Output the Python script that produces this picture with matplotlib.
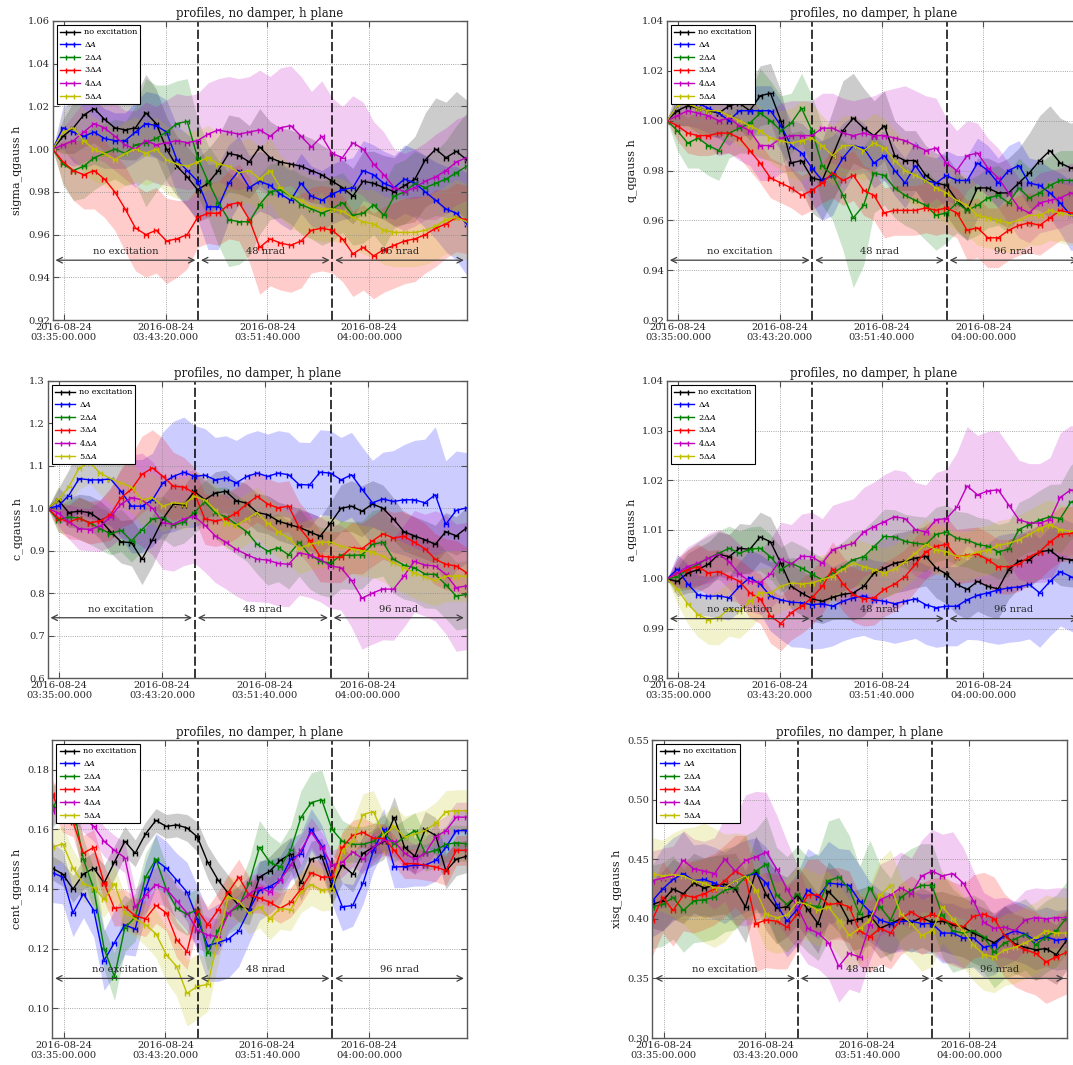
import numpy as np
import matplotlib
matplotlib.use("Agg")
import matplotlib.pyplot as plt
from matplotlib.ticker import MultipleLocator, FormatStrFormatter, FuncFormatter

plt.rcParams['font.family'] = 'DejaVu Serif'
plt.rcParams['mathtext.fontset'] = 'dejavuserif'

# time axis: seconds after 2016-08-24 03:35:00
t_first, t_last, n_pts = -55, 1980, 41
t_exc1, t_exc2 = 660, 1320   # start of the 48 nrad and 96 nrad steps
t = np.linspace(t_first, t_last, n_pts)
XERR = 10  # half width of the time bins (s)

labels = ['no excitation', r'$\Delta A$', r'$2\Delta A$', r'$3\Delta A$', r'$4\Delta A$', r'$5\Delta A$']
colors = ['k', 'b', 'g', 'r', 'm', 'y']

# sigma_qgauss (x1e-3)
sig_no = [1000,1006,1010,1016,1019,1014,1010,1009,1010,1017,1012,1000,992,987,981,984,990,998,997,994,1001,996,994,993,992,990,988,985,982,978,985,984,982,980,983,986,995,1000,996,999,995]
sig_1 = [1000,1010,1008,1006,1008,1005,1004,1004,1008,1012,1011,1008,995,990,985,973,973,984,990,982,985,983,979,976,984,978,976,979,981,982,990,988,984,982,986,984,980,976,972,970,965]
sig_2 = [1000,993,990,992,996,998,1000,998,1002,1003,1005,1008,1012,1013,996,985,975,967,966,966,974,980,981,978,974,972,970,972,975,969,970,974,969,978,980,984,982,984,986,989,992]
sig_3 = [1000,994,990,988,990,986,980,972,963,960,962,957,958,960,968,970,970,974,975,967,954,958,956,955,957,962,963,962,958,951,954,950,953,955,957,958,960,963,965,968,967]
sig_4 = [1000,1002,1004,1008,1012,1010,1006,1002,1000,1004,1002,1003,1004,1003,1004,1007,1009,1008,1007,1008,1009,1006,1010,1011,1006,1001,1006,998,996,1003,1000,993,988,982,980,982,985,987,990,994,996]
sig_5 = [1000,1008,1010,1004,1000,998,995,998,1000,998,1000,995,993,992,994,996,993,992,989,990,986,990,982,978,976,973,972,972,971,968,966,965,962,961,961,961,962,964,967,968,966]
sig_no_sd = [0,8,12,15,16,15,14,14,15,18,16,15,14,14,15,16,16,18,18,17,18,17,16,16,15,15,14,14,13,13,14,15,15,16,18,20,22,24,26,28,28]
sig_1_sd = [0,10,14,15,15,14,13,13,14,15,15,15,16,17,18,20,20,18,16,15,14,14,14,14,14,14,14,14,14,14,14,14,15,15,16,16,17,18,20,22,24]
sig_2_sd = [0,10,14,15,15,14,14,15,18,30,25,22,20,20,18,17,20,22,20,16,14,13,13,13,14,14,15,15,14,14,14,14,15,15,15,15,15,15,18,22,25]
sig_3_sd = [0,10,14,16,18,18,18,20,20,20,20,20,18,16,14,14,15,16,18,20,22,22,22,22,22,20,20,20,20,20,20,20,20,20,20,20,18,18,16,16,16]
sig_4_sd = [0,8,12,14,16,16,16,16,18,18,18,20,22,22,22,24,24,26,26,26,28,28,28,28,28,26,26,26,24,22,22,20,20,18,18,18,18,20,20,20,20]
sig_5_sd = [0,10,14,15,15,15,15,15,15,15,15,16,16,16,15,15,15,15,15,15,15,15,15,15,15,15,15,15,15,15,15,16,16,16,16,16,16,16,16,18,18]

# q_qgauss (x1e-3)
q_no = [1000,1004,1006,1005,1004,1003,1006,1007,1004,1010,1011,1000,983,984,977,976,986,996,1001,997,994,998,986,984,984,978,975,974,968,964,973,973,971,971,975,979,984,988,983,981,982]
q_1 = [1000,1006,1008,1007,1005,1003,1000,1004,1004,1004,1004,998,990,987,981,976,978,985,990,989,983,986,980,975,982,976,975,978,976,976,983,980,975,980,982,975,974,971,967,962,962]
q_2 = [1000,996,991,993,990,988,995,997,999,1003,1000,996,999,1005,996,982,978,970,961,966,979,978,973,970,968,966,962,963,967,964,966,969,970,967,973,969,971,974,976,976,976]
q_3 = [1000,998,995,994,994,995,995,993,988,983,977,975,973,970,972,975,979,976,978,972,970,963,964,964,964,965,964,965,963,956,957,953,953,956,958,959,958,961,964,963,963]
q_4 = [1000,1002,1004,1003,1002,1000,1001,998,996,990,990,993,994,994,994,997,997,995,994,995,994,994,993,992,990,988,989,983,980,986,987,981,977,971,965,963,967,968,969,971,970]
q_5 = [1000,1006,1007,1005,1004,1004,1002,1000,998,996,993,992,991,992,993,990,986,990,990,988,991,989,984,980,978,976,973,971,968,966,962,961,960,959,960,962,962,964,963,962,962]
q_no_sd = [0,6,8,10,10,10,10,10,12,12,12,12,12,12,14,16,18,20,18,16,14,14,14,12,12,12,12,12,12,12,12,12,12,14,14,16,18,18,18,18,18]
q_1_sd = [0,8,10,10,10,10,10,10,10,10,10,10,10,12,14,16,16,14,12,10,10,10,10,10,10,10,10,10,10,10,10,10,10,10,10,10,10,10,12,14,14]
q_2_sd = [0,8,10,12,12,12,10,10,12,18,16,14,12,14,14,16,18,22,28,24,16,12,12,12,12,14,14,12,12,12,12,12,12,12,12,12,12,12,12,12,12]
q_3_sd = [0,6,8,8,8,8,8,8,8,8,8,8,8,8,8,8,10,10,10,10,10,10,10,10,10,10,10,10,10,12,12,12,12,12,12,12,12,12,12,12,12]
q_4_sd = [0,6,8,10,12,14,14,14,14,14,14,14,14,14,14,14,14,14,14,14,16,18,20,22,22,22,20,18,16,14,12,12,12,12,12,12,12,12,12,12,12]
q_5_sd = [0,8,10,10,10,10,10,10,10,10,10,12,14,16,14,12,12,12,12,12,12,12,12,12,12,12,12,12,12,12,12,12,12,12,12,12,12,12,12,12,12]

# c_qgauss (x1e-3)
c_no = [1000,1020,990,993,990,973,945,921,919,880,925,975,1010,1008,1040,1020,1036,1040,1018,1012,990,985,970,962,955,945,934,965,1000,1005,993,1010,1000,975,945,935,926,915,945,935,954]
c_1 = [1000,1005,1030,1070,1067,1067,1069,1040,1005,1005,1020,1060,1075,1085,1075,1078,1067,1071,1060,1075,1083,1075,1083,1079,1056,1055,1085,1083,1067,1079,1045,1013,1022,1016,1020,1020,1013,1032,962,995,1001]
c_2 = [1000,973,979,977,966,952,940,948,923,950,975,978,960,968,990,1015,989,980,962,945,915,899,907,890,920,890,876,870,890,889,890,915,920,880,866,860,845,844,820,793,797]
c_3 = [1000,977,968,976,966,970,985,1025,1045,1080,1095,1075,1052,1050,1036,975,970,975,989,1010,1028,1010,1001,1005,955,925,887,885,885,907,905,923,940,930,934,920,905,880,868,864,848]
c_4 = [1000,989,968,952,950,958,980,1010,1025,1020,1000,966,962,975,981,960,935,920,903,891,880,878,870,868,895,890,880,864,860,830,788,800,810,809,840,875,866,864,844,813,817]
c_5 = [1000,1020,1050,1095,1108,1083,1070,1060,1050,1020,1025,1005,1013,1010,1028,1020,997,966,960,975,990,965,945,930,905,915,920,920,911,905,900,897,887,872,860,848,838,830,840,840,840]
c_no_sd = [0,30,35,40,40,45,50,50,55,60,60,55,50,45,45,45,50,50,50,45,45,45,45,45,45,45,45,50,55,60,60,55,55,50,45,45,45,45,45,45,50]
c_1_sd = [0,40,60,80,90,100,110,110,110,110,110,120,130,130,120,110,100,100,100,100,100,100,100,100,100,100,100,100,100,100,100,100,110,120,130,140,150,160,150,140,130]
c_2_sd = [0,30,40,50,50,50,50,50,50,50,50,50,50,50,50,50,60,70,70,70,70,80,80,80,80,80,80,80,80,80,80,80,80,80,80,80,80,80,80,80,80]
c_3_sd = [0,30,40,50,50,50,60,70,80,90,90,90,80,70,60,60,60,60,60,60,60,60,60,60,60,60,60,60,60,60,60,60,60,60,60,60,60,60,60,60,60]
c_4_sd = [0,30,40,50,50,60,70,80,100,110,110,110,110,110,110,110,110,110,110,110,100,100,100,100,100,100,100,100,100,110,120,120,120,120,120,120,120,130,140,150,150]
c_5_sd = [0,30,40,50,50,50,60,60,60,60,60,60,60,60,60,60,60,60,60,60,60,60,60,60,60,60,60,60,60,60,60,60,60,60,60,60,60,60,60,60,60]

# a_qgauss (x1e-4)
a_no = [10000,9995,10012,10019,10030,10050,10045,10062,10060,10085,10075,10032,9985,9972,9960,9955,9963,9969,9972,9985,10012,10022,10032,10036,10042,10046,10022,10010,9989,9979,9995,9985,9980,10019,10036,10039,10055,10058,10042,10039,10038]
a_1 = [10000,10020,9990,9968,9965,9966,9962,9985,10003,9990,9965,9958,9953,9952,9948,9950,9945,9955,9962,9966,9958,9955,9950,9955,9960,9948,9942,9945,9945,9958,9967,9972,9978,9982,9984,9989,9972,9995,10015,10005,9995]
a_2 = [10000,10005,10019,10030,10042,10052,10062,10052,10060,10062,10045,10019,10032,10022,10010,9998,10012,10025,10039,10045,10065,10086,10085,10076,10072,10070,10090,10095,10082,10079,10070,10066,10055,10060,10100,10110,10119,10126,10122,10155,10165]
a_3 = [10000,10012,10019,10025,10012,10015,10005,9995,9972,9960,9925,9910,9932,9945,9962,9985,10020,9990,9968,9960,9962,9979,9990,10005,10030,10055,10066,10070,10045,10048,10050,10039,10025,10025,10030,10045,10055,10075,10090,10092,10100]
a_4 = [10000,10012,10025,10032,10042,10050,10035,10010,9995,9993,10010,10040,10030,10046,10045,10032,10059,10066,10072,10095,10106,10116,10126,10122,10100,10095,10120,10122,10145,10188,10170,10178,10180,10150,10120,10113,10113,10120,10165,10180,10175]
a_5 = [10000,9980,9950,9928,9918,9922,9940,9935,9955,9972,9972,9985,9992,9990,9992,9999,10005,10020,10032,10025,10019,10012,10020,10035,10052,10070,10059,10055,10046,10046,10055,10058,10068,10072,10079,10090,10102,10110,10100,10096,10098]
a_no_sd = [0,30,40,45,45,45,45,50,50,50,50,50,45,45,45,45,45,50,55,60,60,60,60,60,60,60,60,60,60,60,60,60,60,60,55,55,55,55,55,55,55]
a_1_sd = [0,30,40,40,40,45,45,50,55,60,70,80,90,90,90,90,80,80,80,80,80,80,80,80,80,80,80,80,80,80,90,100,110,110,110,110,110,110,110,110,110]
a_2_sd = [0,30,40,45,45,45,45,45,45,45,45,45,45,45,45,45,50,50,55,55,55,55,55,55,55,55,55,55,55,55,55,55,55,55,55,55,60,65,70,75,80]
a_3_sd = [0,30,40,45,45,45,45,45,50,50,55,55,55,55,55,55,55,55,55,55,55,55,55,55,55,55,55,55,55,55,55,55,55,55,55,55,55,55,55,55,55]
a_4_sd = [0,30,40,45,50,50,55,60,60,65,70,75,80,85,90,90,90,90,90,90,90,95,95,95,95,95,95,100,110,120,120,120,120,120,120,120,120,125,130,130,130]
a_5_sd = [0,30,40,45,50,55,55,55,55,50,50,50,50,50,50,50,50,50,50,50,50,50,50,50,50,50,50,50,50,50,50,50,50,50,50,50,50,50,50,50,50]

# cent_qgauss (x1e-4)
cent_no = [1470,1450,1400,1450,1470,1420,1490,1560,1520,1585,1630,1610,1615,1605,1575,1490,1430,1385,1345,1330,1440,1460,1496,1518,1420,1500,1510,1410,1480,1450,1520,1540,1560,1640,1540,1510,1600,1580,1460,1500,1510]
cent_1 = [1455,1440,1320,1384,1329,1160,1220,1280,1265,1400,1496,1470,1430,1390,1300,1210,1220,1232,1260,1330,1395,1408,1430,1500,1518,1600,1545,1430,1340,1345,1420,1530,1600,1474,1475,1480,1480,1496,1540,1596,1596]
cent_2 = [1674,1720,1680,1500,1400,1200,1106,1270,1305,1440,1500,1400,1335,1315,1330,1184,1260,1320,1340,1420,1540,1490,1474,1530,1640,1690,1700,1600,1560,1550,1550,1560,1590,1550,1574,1596,1520,1530,1550,1555,1552]
cent_3 = [1718,1640,1625,1520,1540,1420,1335,1340,1310,1300,1345,1320,1230,1190,1330,1280,1330,1390,1440,1380,1370,1355,1335,1355,1400,1455,1440,1440,1540,1580,1590,1570,1570,1530,1485,1485,1480,1474,1462,1530,1530]
cent_4 = [1663,1696,1680,1640,1610,1560,1530,1505,1340,1380,1415,1400,1360,1320,1262,1245,1240,1318,1351,1384,1405,1390,1430,1480,1530,1590,1540,1480,1490,1525,1500,1540,1563,1560,1520,1500,1520,1575,1596,1641,1641]
cent_5 = [1540,1552,1470,1418,1405,1365,1418,1320,1300,1280,1250,1180,1140,1050,1073,1080,1230,1375,1360,1318,1340,1300,1335,1330,1390,1415,1396,1400,1529,1560,1650,1660,1580,1610,1574,1585,1596,1620,1660,1663,1663]
cent_no_sd = [40,40,45,50,55,60,55,50,45,40,40,40,40,45,50,55,60,60,55,50,50,50,50,55,60,60,60,60,60,60,60,60,60,70,60,60,60,60,60,55,55]
cent_1_sd = [100,90,80,80,90,100,110,100,90,90,90,90,90,100,110,120,130,130,120,110,100,90,80,70,70,70,70,80,80,70,70,70,70,70,70,70,70,70,70,70,70]
cent_2_sd = [70,70,70,70,70,70,80,80,80,80,80,80,70,70,70,60,60,70,70,80,90,90,80,80,90,100,100,90,70,60,60,60,60,60,60,60,60,60,60,60,60]
cent_3_sd = [50,50,50,60,60,60,60,60,60,60,60,60,60,60,60,60,60,60,60,60,50,50,50,50,50,50,50,50,50,50,50,50,50,50,50,50,50,50,50,50,50]
cent_4_sd = [50,50,50,50,50,50,50,50,60,60,60,60,60,60,60,60,60,60,60,60,50,50,50,50,50,50,50,50,50,50,50,50,50,50,50,50,50,50,50,50,50]
cent_5_sd = [60,60,60,60,60,60,60,60,60,70,80,90,100,110,110,90,80,70,70,70,70,70,70,70,70,70,70,70,70,70,70,70,70,70,70,70,70,70,70,70,70]

# xisq_qgauss (x1e-3)
xisq_no = [412,415,425,421,430,426,428,429,425,410,440,420,409,410,420,408,396,423,414,398,400,403,392,396,400,397,401,397,398,395,393,388,384,380,386,379,376,374,375,370,382]
xisq_1 = [415,425,433,438,432,433,430,426,432,436,438,430,412,398,408,424,418,430,429,428,415,406,399,396,398,398,396,396,388,388,384,384,376,378,386,390,387,382,385,382,383]
xisq_2 = [410,412,418,407,415,416,418,424,426,435,440,446,420,412,421,412,410,432,435,425,404,426,410,399,418,424,428,428,403,390,388,390,385,372,380,383,387,378,385,390,401]
xisq_3 = [399,418,407,420,418,421,425,432,440,435,396,399,398,393,404,420,420,412,413,410,390,385,392,388,400,406,400,404,400,396,393,402,404,400,386,378,374,371,364,368,372]
xisq_4 = [432,434,436,449,442,440,438,450,440,449,452,456,442,425,410,392,388,380,360,371,368,395,416,420,426,421,436,440,436,438,430,415,397,392,393,390,399,401,400,401,401]
xisq_5 = [438,436,437,436,432,430,426,426,432,436,424,404,401,403,414,412,407,410,399,386,392,399,420,428,404,396,386,390,410,400,390,378,370,368,374,376,380,384,390,388,388]
xisq_no_sd = [20,25,25,25,25,25,25,25,30,30,30,30,30,25,25,25,25,25,25,25,25,25,25,25,25,25,25,25,25,25,25,25,25,25,25,25,25,25,25,25,25]
xisq_1_sd = [30,35,35,35,30,30,30,30,30,30,30,30,30,30,30,35,35,35,30,30,30,25,25,25,25,25,25,25,25,25,25,25,25,25,25,25,25,25,25,25,25]
xisq_2_sd = [35,35,35,35,35,35,35,35,35,35,35,40,40,40,40,40,45,50,50,45,40,40,35,35,35,35,35,35,35,35,30,30,30,30,30,30,30,30,30,30,30]
xisq_3_sd = [30,30,30,30,30,30,30,30,30,35,40,40,40,35,30,30,30,30,30,30,30,30,30,30,30,30,30,30,35,35,35,35,35,35,35,35,35,35,35,35,35]
xisq_4_sd = [25,25,25,25,25,25,30,35,45,55,55,50,45,40,35,30,30,30,30,30,30,30,30,30,30,30,30,35,35,35,30,25,25,25,25,25,25,25,25,25,25]
xisq_5_sd = [30,30,35,40,45,50,50,45,40,35,30,30,30,30,30,30,30,30,30,30,30,30,30,30,30,30,30,30,30,30,30,30,30,30,30,30,30,30,30,30,30]

W, H = 1073, 1065
fig = plt.figure(figsize=(W / 100, H / 100), dpi=100)

# ylabel, series, spreads, scale, ylim, ytick step, tick format, arrow level, box in px (l, t, r, b)
panels = [
    ("sigma_qgauss h", [sig_no, sig_1, sig_2, sig_3, sig_4, sig_5],
     [sig_no_sd, sig_1_sd, sig_2_sd, sig_3_sd, sig_4_sd, sig_5_sd],
     1000, (0.92, 1.06), 0.02, "%.2f", 0.948, (52.7, 21, 466.7, 320)),
    ("q_qgauss h", [q_no, q_1, q_2, q_3, q_4, q_5],
     [q_no_sd, q_1_sd, q_2_sd, q_3_sd, q_4_sd, q_5_sd],
     1000, (0.92, 1.04), 0.02, "%.2f", 0.944, (667, 21, 1081, 320)),
    ("c_qgauss h", [c_no, c_1, c_2, c_3, c_4, c_5],
     [c_no_sd, c_1_sd, c_2_sd, c_3_sd, c_4_sd, c_5_sd],
     1000, (0.6, 1.3), 0.1, "%.1f", 0.742, (47.7, 381, 466.7, 678)),
    ("a_qgauss h", [a_no, a_1, a_2, a_3, a_4, a_5],
     [a_no_sd, a_1_sd, a_2_sd, a_3_sd, a_4_sd, a_5_sd],
     10000, (0.98, 1.04), 0.01, "%.2f", 0.992, (667, 381, 1081, 678)),
    ("cent_qgauss h", [cent_no, cent_1, cent_2, cent_3, cent_4, cent_5],
     [cent_no_sd, cent_1_sd, cent_2_sd, cent_3_sd, cent_4_sd, cent_5_sd],
     10000, (0.09, 0.19), 0.02, "%.2f", 0.110, (52.3, 740, 466.7, 1038)),
    ("xisq_qgauss h", [xisq_no, xisq_1, xisq_2, xisq_3, xisq_4, xisq_5],
     [xisq_no_sd, xisq_1_sd, xisq_2_sd, xisq_3_sd, xisq_4_sd, xisq_5_sd],
     1000, (0.30, 0.55), 0.05, "%.2f", 0.35, (652.3, 740, 1066.7, 1038)),
]


def time_label(sec, pos):
    s = int(round(sec)) + 3 * 3600 + 35 * 60
    return "2016-08-24\n%02d:%02d:%02d.000" % (s // 3600, s // 60 % 60, s % 60)


for ylab, series, spreads, scale, ylim, ystep, yfmt, arrow_y, box in panels:
    l, tp, r, b = box
    ax = fig.add_axes([l / W, 1 - b / H, (r - l) / W, (b - tp) / H])

    for vals, sd, c, lab in zip(series, spreads, colors, labels):
        y = np.array(vals) / scale
        s = np.array(sd) / scale
        ax.fill_between(t, y - s, y + s, color=c, alpha=0.2, lw=0)
        ax.errorbar(t, y, xerr=XERR, color=c, lw=1, elinewidth=1, capsize=1.8, label=lab)

    ax.axvline(t_exc1, color='k', ls=(0, (6, 2)), lw=1.1)
    ax.axvline(t_exc2, color='k', ls=(0, (6, 2)), lw=1.1)

    # phase arrows
    for a0, a1, txt in [(t_first, t_exc1, 'no excitation'), (t_exc1, t_exc2, '48 nrad'),
                        (t_exc2, t_last, '96 nrad')]:
        ax.annotate('', xy=(a1, arrow_y), xytext=(a0, arrow_y),
                    arrowprops=dict(arrowstyle='<->', color='0.25', lw=0.9))
        ax.annotate(txt, xy=((a0 + a1) / 2, arrow_y), xytext=(0, 3), textcoords='offset points',
                    ha='center', va='bottom', fontsize=7.1, color='0.15')

    ax.set_xlim(t_first, t_last)
    ax.set_ylim(*ylim)
    ax.xaxis.set_major_locator(MultipleLocator(500))
    ax.xaxis.set_major_formatter(FuncFormatter(time_label))
    ax.yaxis.set_major_locator(MultipleLocator(ystep))
    ax.yaxis.set_major_formatter(FormatStrFormatter(yfmt))
    ax.tick_params(labelsize=7.1, direction='in', top=True, right=True, length=4, color='0.3',
                   labelcolor='0.15', pad=2)
    ax.grid(True, ls=':', color='0.55', lw=0.6)
    for sp in ax.spines.values():
        sp.set_color('0.35')
        sp.set_linewidth(1.0)

    ax.set_title("profiles, no damper, h plane", fontsize=8.5, pad=3, color='0.1')
    ax.set_ylabel(ylab, fontsize=8, color='0.1')

    leg = ax.legend(loc='upper left', fontsize=5.9, fancybox=False, framealpha=1,
                    handlelength=2.4, handletextpad=0.5, labelspacing=0.45, borderpad=0.4)
    leg.get_frame().set_edgecolor('k')
    leg.get_frame().set_linewidth(0.8)

fig.savefig("out.png", dpi=100, facecolor='white')
